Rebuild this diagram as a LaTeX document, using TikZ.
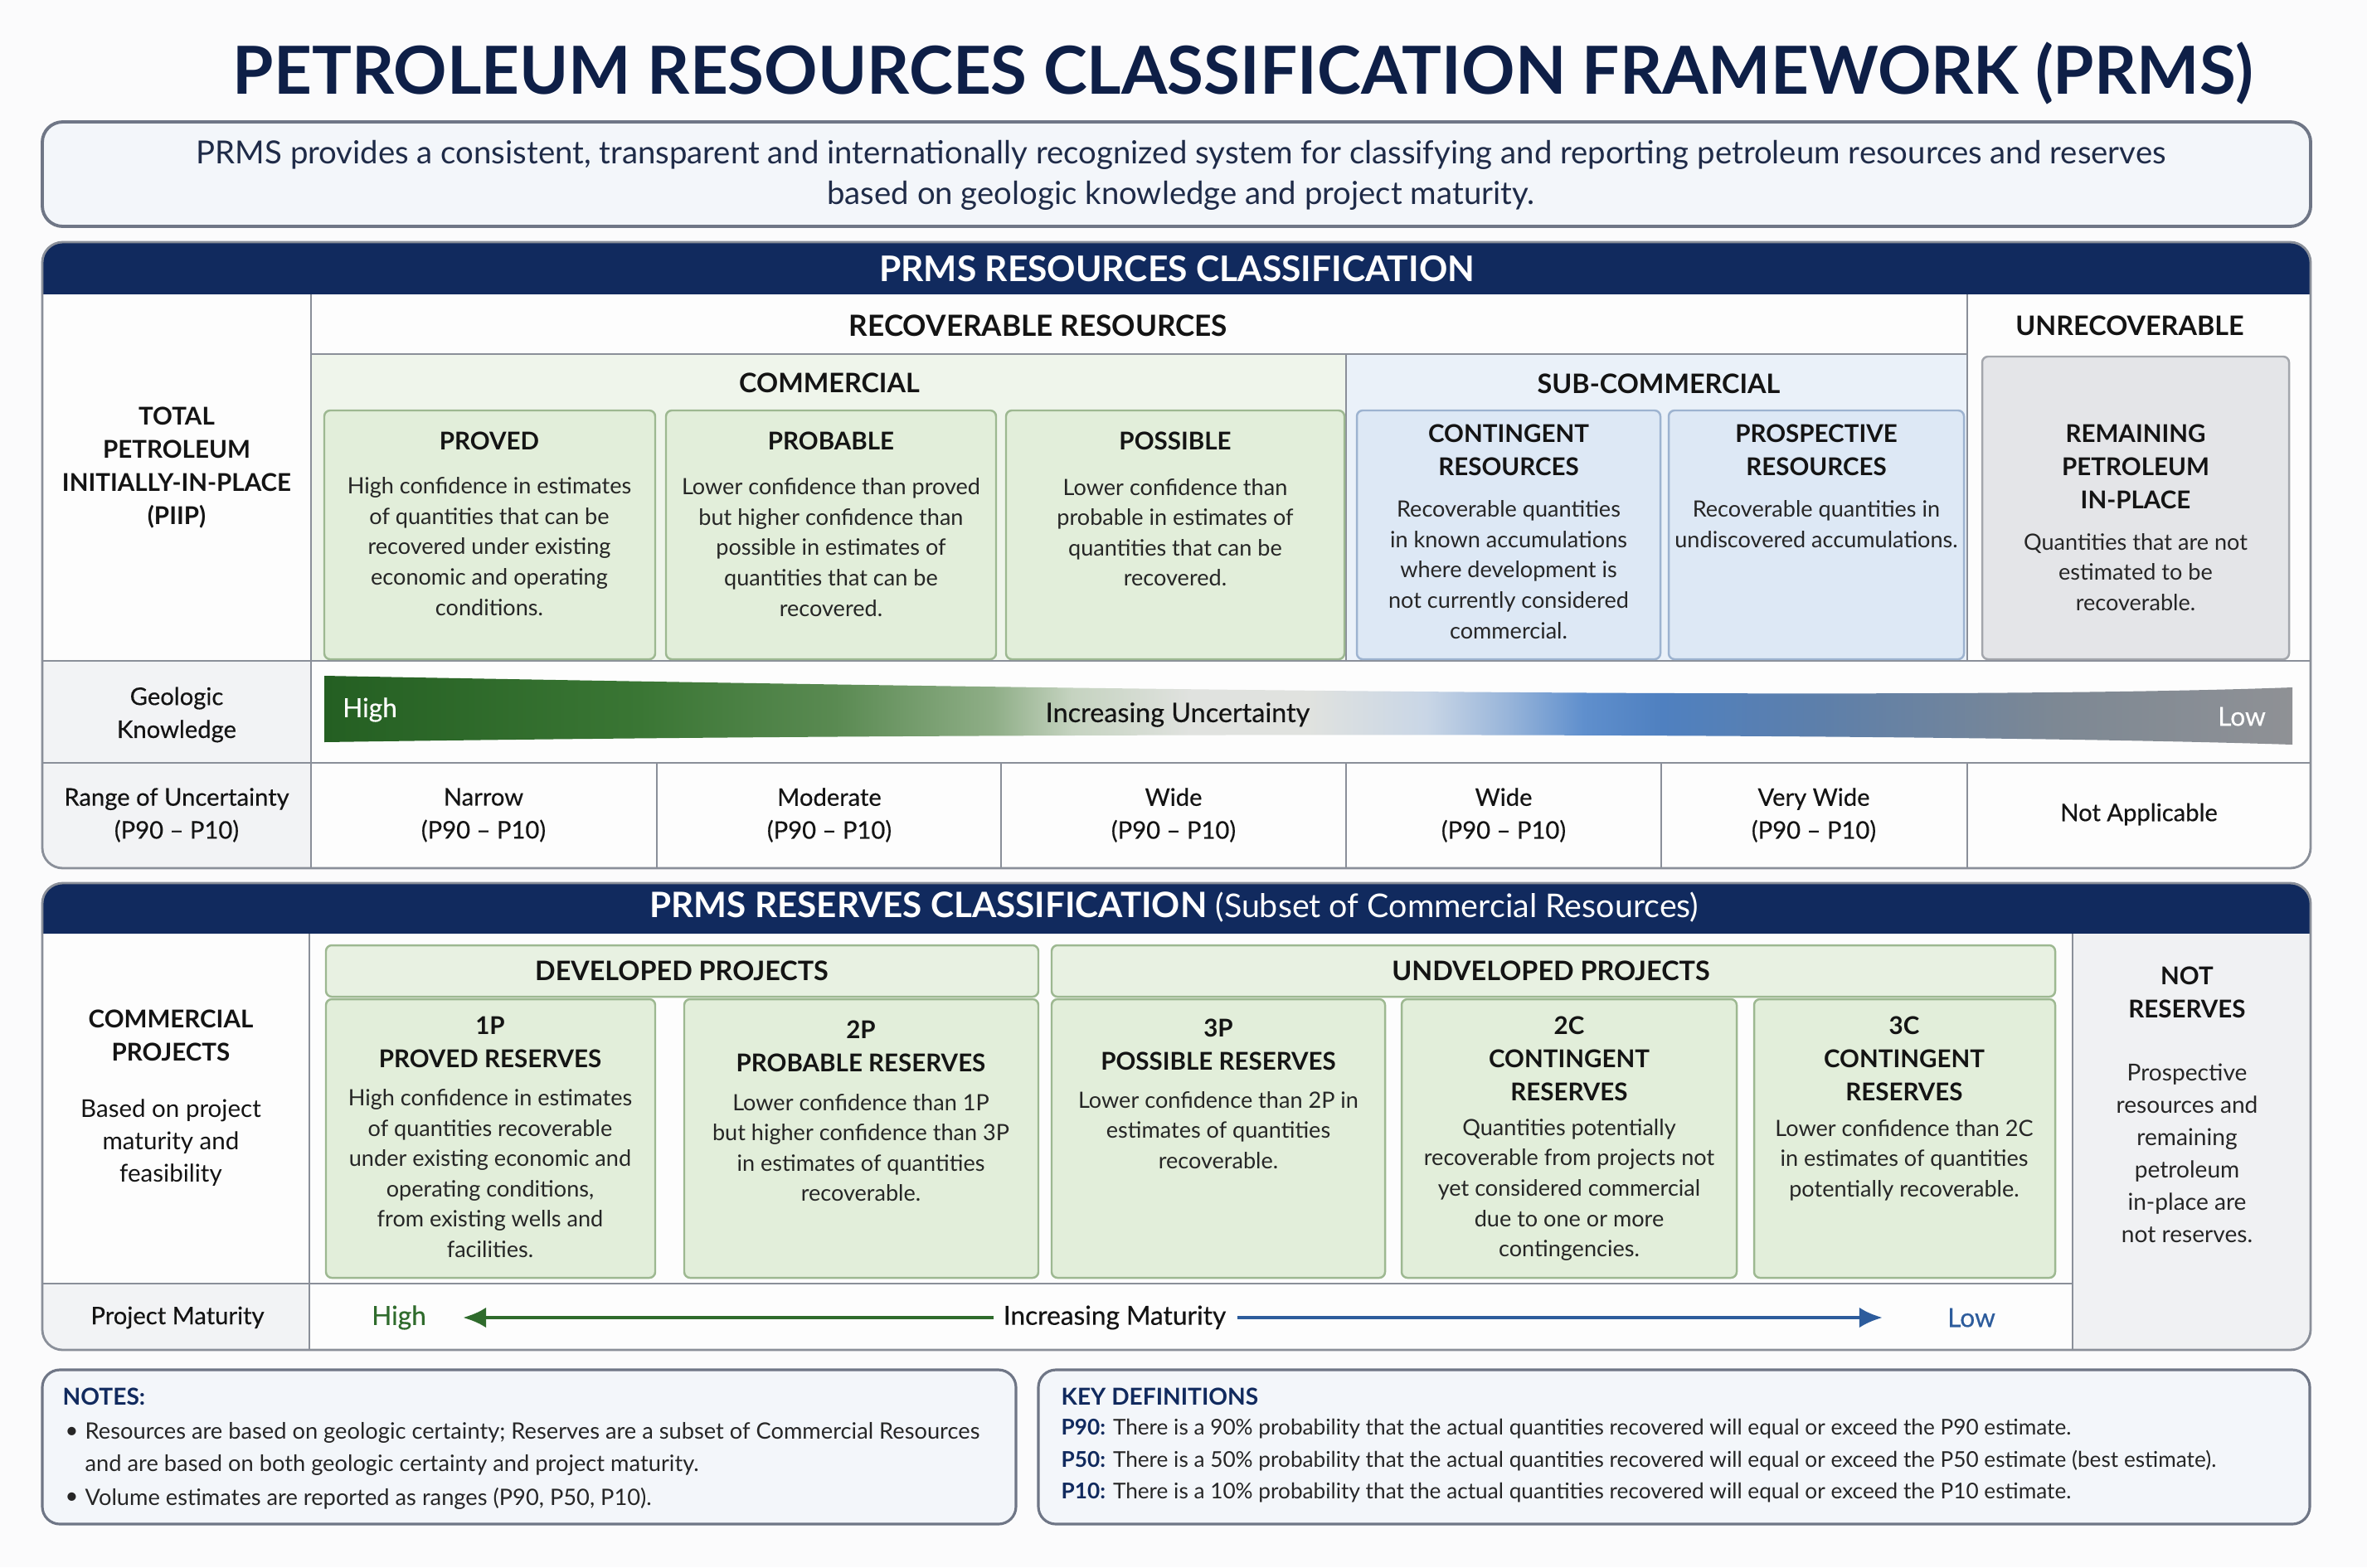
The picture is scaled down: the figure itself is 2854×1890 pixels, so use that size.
\documentclass[tikz,border=0pt]{standalone}
\usepackage{fontspec}
\setmainfont{Lato}
\newfontfamily\semib[FakeBold=0.4]{Lato}
\usetikzlibrary{arrows.meta}

\definecolor{bgc}{HTML}{FBFBFC}
\definecolor{navy}{HTML}{112A5E}
\definecolor{titlenavy}{HTML}{0E1F47}
\definecolor{introtxt}{HTML}{1F2B48}
\definecolor{introfill}{HTML}{F3F6FA}
\definecolor{introline}{HTML}{6F7686}
\definecolor{bodyc}{HTML}{262626}
\definecolor{ttlc}{HTML}{141414}
\definecolor{secfill}{HTML}{FDFDFD}
\definecolor{cellgray}{HTML}{F2F3F5}
\definecolor{frameline}{HTML}{8A8F99}
\definecolor{gfill}{HTML}{E2EEDA}
\definecolor{gband}{HTML}{EFF5EB}
\definecolor{ghdr}{HTML}{E8F1E2}
\definecolor{gline}{HTML}{9DB891}
\definecolor{bfill}{HTML}{DDE8F5}
\definecolor{bband}{HTML}{EAF1F9}
\definecolor{bline}{HTML}{9DB3D0}
\definecolor{grfill}{HTML}{E4E5E8}
\definecolor{grline}{HTML}{A3A6AC}
\definecolor{nrfill}{HTML}{F0F1F3}
\definecolor{arrgreen}{HTML}{2F6B2C}
\definecolor{arrblue}{HTML}{2D5C9C}
\definecolor{ug1}{HTML}{245F22}
\definecolor{ug2}{HTML}{3A7634}
\definecolor{ug3}{HTML}{5A8A52}
\definecolor{ug4}{HTML}{8FAE87}
\definecolor{ug5}{HTML}{C5D3C0}
\definecolor{ug6}{HTML}{E0E2DF}
\definecolor{ug7}{HTML}{C9D6E6}
\definecolor{ug8}{HTML}{9AB6DA}
\definecolor{ug9}{HTML}{5F8FCD}
\definecolor{ug10}{HTML}{4F80C0}
\definecolor{ug11}{HTML}{5D7FAA}
\definecolor{ug12}{HTML}{7D8894}
\definecolor{ug13}{HTML}{8F9195}

\pgfdeclarehorizontalshading{uncert}{100bp}{color(0bp)=(ug1); color(25bp)=(ug1); color(33bp)=(ug2); color(38bp)=(ug3); color(42bp)=(ug4); color(44bp)=(ug5); color(47bp)=(ug6); color(50bp)=(ug6); color(53bp)=(ug7); color(55bp)=(ug8); color(57bp)=(ug9); color(59bp)=(ug10); color(63bp)=(ug11); color(69bp)=(ug12); color(75bp)=(ug13); color(100bp)=(ug13)}

\newcommand\mkbox[6]{\node[#6, inner sep=0pt, outer sep=0pt, minimum width={(#4-#2)*0.01cm}, minimum height={(#5-#3)*0.01cm}] (#1) at ({(#2+#4)/2},{(#3+#5)/2}) {};}

\begin{document}
\begin{tikzpicture}[x=0.01cm,y=-0.01cm,
  every node/.style={inner sep=0pt},
  body/.style={align=center, font=\fontsize{7.7}{10.4}\selectfont, text=bodyc},
  ttl/.style={align=center, font=\fontsize{8.4}{11.3}\selectfont\bfseries, text=ttlc},
  sect/.style={align=center, font=\fontsize{9.2}{11}\selectfont\bfseries, text=ttlc},
  lbl/.style={align=center, font=\fontsize{8.3}{11.3}\selectfont\semib, text=ttlc},
  hdr/.style={font=\fontsize{12.1}{14}\selectfont\bfseries, text=white},
  gbox/.style={fill=gfill, draw=gline, line width=0.7pt, rounded corners=2pt},
  bbox/.style={fill=bfill, draw=bline, line width=0.7pt, rounded corners=2pt},
  grbox/.style={fill=grfill, draw=grline, line width=0.7pt, rounded corners=2pt},
  ghbox/.style={fill=ghdr, draw=gline, line width=0.7pt, rounded corners=2pt},
  fl/.style={draw=frameline, line width=0.8pt},
  note/.style={font=\fontsize{7.75}{10.5}\selectfont, text=bodyc, anchor=west},
  keyl/.style={font=\fontsize{7.45}{10.5}\selectfont, text=bodyc, anchor=west},
  notehd/.style={font=\fontsize{8}{10}\selectfont\bfseries, text=navy, anchor=west}
]
\useasboundingbox (0,0) rectangle (2854,1890);
\fill[bgc] (0,0) rectangle (2854,1890);

% ---------------- title and intro
\node[font=\fontsize{22.7}{27}\selectfont\bfseries, text=titlenavy] (title) at (1499,88) {PETROLEUM RESOURCES CLASSIFICATION FRAMEWORK (PRMS)};
\mkbox{introbox}{51}{147}{2786}{273}{draw=introline, fill=introfill, rounded corners=7pt, line width=1.1pt}
\node[align=center, font=\fontsize{10.9}{14}\selectfont, text=introtxt] (intro) at (1424,211) {PRMS provides a consistent, transparent and internationally recognized system for classifying and reporting petroleum resources and reserves\\based on geologic knowledge and project maturity.};

% ---------------- resources section
\mkbox{resframe}{51}{292}{2786}{1047}{}
\begin{scope}
\clip[rounded corners=7pt] (51,292) rectangle (2786,1047);
\fill[secfill] (51,292) rectangle (2786,1047);
\fill[navy] (51,292) rectangle (2786,355);
\fill[cellgray] (51,797) rectangle (375,1047);
\fill[gband] (375,427) rectangle (1623,797);
\fill[bband] (1623,427) rectangle (2372,797);
\end{scope}
\node[hdr] (reshdr) at (1419,324) {PRMS RESOURCES CLASSIFICATION};
\draw[fl] (375,355) -- (375,1047);
\draw[fl] (375,427) -- (2372,427);
\draw[fl] (2372,355) -- (2372,797);
\draw[draw=frameline, line width=0.5pt] (1623,427) -- (1623,797);
\draw[fl] (51,797) -- (2786,797);
\draw[fl] (51,920) -- (2786,920);
\foreach \xx in {792,1207,1623,2003,2372} \draw[fl] (\xx,920) -- (\xx,1047);
\draw[fl, rounded corners=7pt] (resframe.north west) rectangle (resframe.south east);

\node[sect, font=\fontsize{10}{12}\selectfont\bfseries] (recov) at (1252,393) {RECOVERABLE RESOURCES};
\node[sect] (unrecov) at (2568,393) {UNRECOVERABLE};
\node[sect] (comm) at (1000,462) {COMMERCIAL};
\node[sect] (subcomm) at (2000,463) {SUB-COMMERCIAL};

\node[ttl] (piip) at (213,564) {TOTAL\\PETROLEUM\\INITIALLY-IN-PLACE\\(PIIP)};

\mkbox{proved}{391}{495}{790}{795}{gbox}
\mkbox{probable}{803}{495}{1201}{795}{gbox}
\mkbox{possible}{1213}{495}{1621}{795}{gbox}
\mkbox{conting}{1636}{495}{2002}{795}{bbox}
\mkbox{prosp}{2012}{495}{2368}{795}{bbox}
\mkbox{remain}{2390}{430}{2760}{795}{grbox}

\node[ttl] (provedT) at (590,532) {PROVED};
\node[body] (provedB) at (590,659) {High confidence in estimates\\of quantities that can be\\recovered under existing\\economic and operating\\conditions.};
\node[ttl] (probT) at (1002,532) {PROBABLE};
\node[body] (probB) at (1002,660) {Lower confidence than proved\\but higher confidence than\\possible in estimates of\\quantities that can be\\recovered.};
\node[ttl] (possT) at (1417,532) {POSSIBLE};
\node[body] (possB) at (1417,642) {Lower confidence than\\probable in estimates of\\quantities that can be\\recovered.};
\node[ttl] (contT) at (1819,543) {CONTINGENT\\RESOURCES};
\node[body] (contB) at (1819,687) {Recoverable quantities\\in known accumulations\\where development is\\not currently considered\\commercial.};
\node[ttl] (prospT) at (2190,543) {PROSPECTIVE\\RESOURCES};
\node[body] (prospB) at (2190,632) {Recoverable quantities in\\undiscovered accumulations.};
\node[ttl] (remT) at (2575,563) {REMAINING\\PETROLEUM\\IN-PLACE};
\node[body] (remB) at (2575,690) {Quantities that are not\\estimated to be\\recoverable.};

% geologic knowledge row
\node[lbl] (geo) at (213,862) {Geologic\\Knowledge};
\shade[shading=uncert] (391,815) .. controls (1200,830) and (2300,846) .. (2764,829) -- (2764,898) .. controls (2300,883) and (1200,883) .. (391,895) -- cycle;
\node[font=\fontsize{9}{11}\selectfont\semib, text=white] (ghigh) at (446,856) {High};
\node[font=\fontsize{9.2}{11}\selectfont\semib, text=ttlc] (guncert) at (1420,862) {Increasing Uncertainty};
\node[font=\fontsize{9}{11}\selectfont\semib, text=white] (glow) at (2703,864) {Low};

% range row
\node[lbl] (range) at (213,983) {Range of Uncertainty\\(P90 \textendash{} P10)};
\node[lbl] (r1) at (583,983) {Narrow\\(P90 \textendash{} P10)};
\node[lbl] (r2) at (1000,983) {Moderate\\(P90 \textendash{} P10)};
\node[lbl] (r3) at (1415,983) {Wide\\(P90 \textendash{} P10)};
\node[lbl] (r4) at (1813,983) {Wide\\(P90 \textendash{} P10)};
\node[lbl] (r5) at (2187,983) {Very Wide\\(P90 \textendash{} P10)};
\node[lbl] (r6) at (2579,982) {Not Applicable};

% ---------------- reserves section
\mkbox{resvframe}{51}{1065}{2786}{1628}{}
\begin{scope}
\clip[rounded corners=7pt] (51,1065) rectangle (2786,1628);
\fill[secfill] (51,1065) rectangle (2786,1628);
\fill[navy] (51,1065) rectangle (2786,1126);
\fill[cellgray] (51,1548) rectangle (373,1628);
\fill[nrfill] (2499,1126) rectangle (2786,1628);
\end{scope}
\node[font=\fontsize{12}{14}\selectfont, text=white] (resvhdr) at (1416,1094) {\bfseries PRMS RESERVES CLASSIFICATION \fontsize{11.2}{14}\selectfont\mdseries(Subset of Commercial Resources)};
\draw[fl] (373,1126) -- (373,1628);
\draw[fl] (51,1548) -- (2499,1548);
\draw[fl] (2499,1126) -- (2499,1628);
\draw[fl, rounded corners=7pt] (resvframe.north west) rectangle (resvframe.south east);

\node[ttl] (commproj) at (206,1249) {COMMERCIAL\\PROJECTS};
\node[align=center, font=\fontsize{8.4}{11}\selectfont, text=ttlc] (basedon) at (206,1378) {Based on project\\maturity and\\feasibility};

\mkbox{devhdr}{393}{1140}{1252}{1202}{ghbox}
\mkbox{undevhdr}{1268}{1140}{2478}{1202}{ghbox}
\node[sect] (devT) at (822,1171) {DEVELOPED PROJECTS};
\node[sect] (undevT) at (1870,1171) {UNDVELOPED PROJECTS};

\mkbox{p1}{393}{1205}{790}{1541}{gbox}
\mkbox{p2}{825}{1205}{1252}{1541}{gbox}
\mkbox{p3}{1268}{1205}{1670}{1541}{gbox}
\mkbox{c2}{1690}{1205}{2094}{1541}{gbox}
\mkbox{c3}{2115}{1205}{2478}{1541}{gbox}

\node[ttl] (p1T) at (591,1257) {1P\\PROVED RESERVES};
\node[body] (p1B) at (591,1415) {High confidence in estimates\\of quantities recoverable\\under existing economic and\\operating conditions,\\from existing wells and\\facilities.};
\node[ttl] (p2T) at (1038,1262) {2P\\PROBABLE RESERVES};
\node[body] (p2B) at (1038,1384) {Lower confidence than 1P\\but higher confidence than 3P\\in estimates of quantities\\recoverable.};
\node[ttl] (p3T) at (1469,1260) {3P\\POSSIBLE RESERVES};
\node[body] (p3B) at (1469,1363) {Lower confidence than 2P in\\estimates of quantities\\recoverable.};
\node[ttl] (c2T) at (1892,1277) {2C\\CONTINGENT\\RESERVES};
\node[body] (c2B) at (1892,1435) {Quantities potentially\\recoverable from projects not\\yet considered commercial\\due to one or more\\contingencies.};
\node[ttl] (c3T) at (2296,1277) {3C\\CONTINGENT\\RESERVES};
\node[body] (c3B) at (2296,1399) {Lower confidence than 2C\\in estimates of quantities\\potentially recoverable.};

\node[ttl] (notresT) at (2637,1197) {NOT\\RESERVES};
\node[align=center, font=\fontsize{8}{11.1}\selectfont, text=bodyc] (notresB) at (2637,1391) {Prospective\\resources and\\remaining\\petroleum\\in-place are\\not reserves.};

% project maturity row
\node[lbl] (pm) at (214,1589) {Project Maturity};
\node[font=\fontsize{9}{11}\selectfont\semib, text=arrgreen] (mhigh) at (481,1589) {High};
\node[font=\fontsize{9}{11}\selectfont\semib, text=ttlc] (minc) at (1344,1589) {Increasing Maturity};
\node[font=\fontsize{9}{11}\selectfont\semib, text=arrblue] (mlow) at (2377,1589) {Low};
\coordinate (ga) at (1198,1589);
\coordinate (gb) at (558,1589);
\coordinate (ba) at (1492,1589);
\coordinate (bb) at (2270,1589);
\draw[arrgreen, line width=1.3pt, -{Latex[length=8pt,width=7pt]}] (ga) -- (gb);
\draw[arrblue, line width=1.3pt, -{Latex[length=8pt,width=7pt]}] (ba) -- (bb);

% ---------------- notes
\mkbox{notesbox}{51}{1652}{1225}{1838}{draw=introline, fill=introfill, rounded corners=6pt, line width=0.9pt}
\mkbox{keybox}{1252}{1652}{2785}{1838}{draw=introline, fill=introfill, rounded corners=6pt, line width=0.9pt}
\node[notehd] (notesT) at (75,1684) {NOTES:};
\node[note] (nb1) at (78,1728) {\textbullet};
\node[note] (n1a) at (102,1728) {Resources are based on geologic certainty; Reserves are a subset of Commercial Resources};
\node[note] (n1b) at (102,1767) {and are based on both geologic certainty and project maturity.};
\node[note] (nb2) at (78,1807) {\textbullet};
\node[note] (n2) at (102,1807) {Volume estimates are reported as ranges (P90, P50, P10).};

\node[notehd] (keyT) at (1279,1684) {KEY DEFINITIONS};
\node[keyl] (k1) at (1279,1723) {\textcolor{navy}{\bfseries P90:} There is a 90\% probability that the actual quantities recovered will equal or exceed the P90 estimate.};
\node[keyl] (k2) at (1279,1762) {\textcolor{navy}{\bfseries P50:} There is a 50\% probability that the actual quantities recovered will equal or exceed the P50 estimate (best estimate).};
\node[keyl] (k3) at (1279,1800) {\textcolor{navy}{\bfseries P10:} There is a 10\% probability that the actual quantities recovered will equal or exceed the P10 estimate.};
\end{tikzpicture}
\end{document}
